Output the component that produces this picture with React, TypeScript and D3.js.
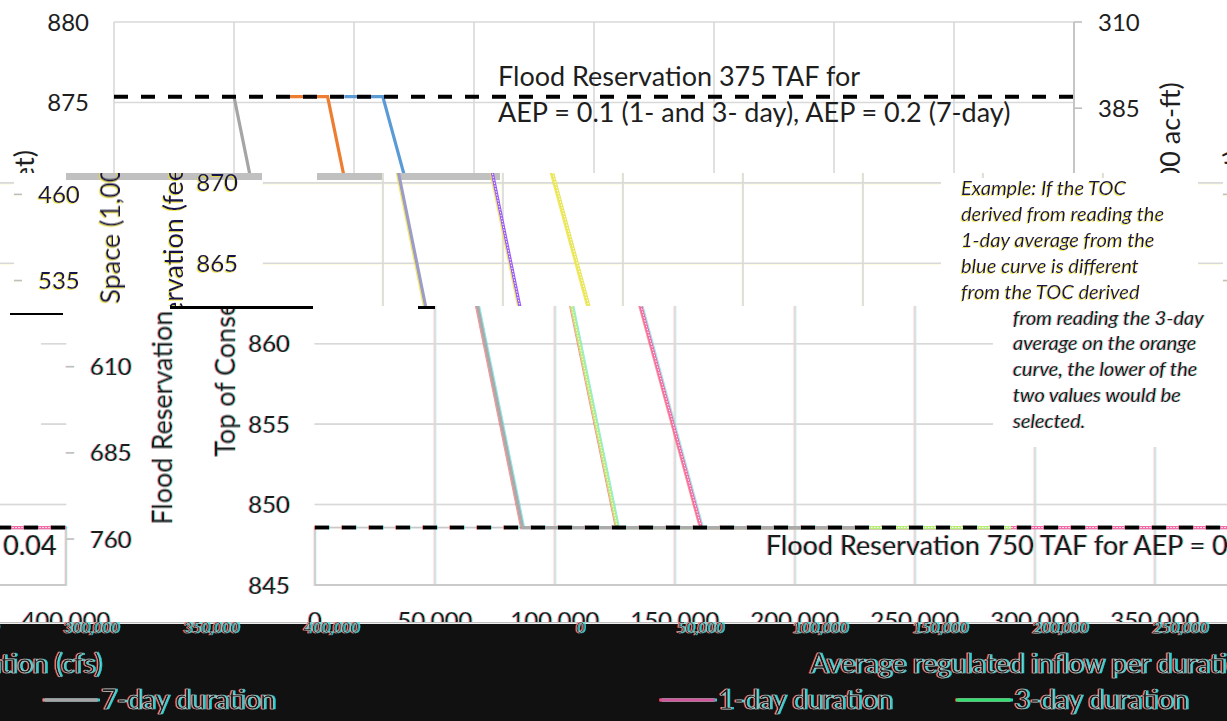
import React from "react";
import * as d3 from "d3";

const WIDTH = 1227;
const HEIGHT = 721;
const WRAP = 1209;

// ---------- data ----------
const xTicks = [0, 50000, 100000, 150000, 200000, 250000, 300000, 350000, 400000];
const yTicks = [845, 850, 855, 860, 865, 870, 875, 880];
const secTicks = [310, 385, 460, 535, 610, 685, 760];

const seriesNames = ["1-day duration", "3-day duration", "7-day duration"];
const oneDayFlow = [96000, 112000, 161000, 400000];
const oneDayElev = [875.36, 875.36, 848.57, 848.57];
const threeDayFlow = [73000, 89000, 126000, 290000];
const threeDayElev = [875.36, 875.36, 848.57, 848.57];
const sevenDayFlow = [50000, 86500, 230000];
const sevenDayElev = [875.36, 848.57, 848.57];

const reservationTAF = [375, 750];
const reservationLabels = [
  ["Flood Reservation 375 TAF for", "AEP = 0.1 (1- and 3- day), AEP = 0.2 (7-day)"],
  ["Flood Reservation 750 TAF for AEP = 0.04"],
];
const noteLines = [
  "Example: If the TOC",
  "derived from reading the",
  "1-day average from the",
  "blue curve is different",
  "from the TOC derived",
  "from reading the 3-day",
  "average on the orange",
  "curve, the lower of the",
  "two values would be",
  "selected.",
];
const xTitle = "Average regulated inflow per duration (cfs)";
const yTitle = "Top of Conservation (feet)";
const y2Title = "Flood Reservation Space (1,000 ac-ft)";

// ---------- scales ----------
const x = d3.scaleLinear().domain([0, 400000]).range([315, 1275]);
const y = d3.scaleLinear().domain([845, 880]).range([585, 22]);
const y2 = d3.scaleLinear().domain([310, 800]).range([22, 585]);
const fmt = d3.format(",");
const FONT = "Lato, 'Open Sans', sans-serif";

type Palette = { one: string; three: string; seven: string; text: string; hatch: boolean };
const palettes: Record<string, Palette> = {
  top: { one: "#5b9bd5", three: "#ed7d31", seven: "#a5a5a5", text: "#1e1e1e", hatch: false },
  middle: { one: "#e6e65a", three: "#9b5cf5", seven: "#9d9cc6", text: "#15154a", hatch: true },
  bottom: { one: "#f06aa8", three: "#b4ec74", seven: "#aaaaaa", text: "#1e1e1e", hatch: true },
};
const legendColors: Record<string, string> = { one: "#d4559b", three: "#33e070", seven: "#a5a5a5" };

const series = [
  { name: seriesNames[0], flow: oneDayFlow, elev: oneDayElev, key: "one" as const },
  { name: seriesNames[1], flow: threeDayFlow, elev: threeDayElev, key: "three" as const },
  { name: seriesNames[2], flow: sevenDayFlow, elev: sevenDayElev, key: "seven" as const },
];

const lineGen = d3.line<[number, number]>().x((d) => x(d[0])).y((d) => y(d[1]));

// layout constants
const resLabelX = [699, 766];
const resLabelDy = [[-10.5, 25.5], [27.5]];
const noteX = 1013;
const noteY0 = 195;
const noteStep = 25.9;
const PLOT_MID = (y(880) + y(845)) / 2;

type BandCfg = {
  off: number; y0: number; y1: number; pal: Palette;
  fStrong?: string; fWeak?: string; fullFrame: boolean; lowerBox: boolean;
};

function Body({ cfg }: { cfg: BandCfg }) {
  const { off, y0, y1, pal, fStrong, fWeak, fullFrame, lowerBox } = cfg;
  const x0 = x(0);
  const x1 = x(400000);
  const txt = pal.text;
  const vis = (xa: number, xb: number, ya: number, yb: number) =>
    ya < y1 && yb > y0 && xa + off < WIDTH && xb + off > 0;
  const tw = (s: string, size: number) => s.length * size * 0.52;
  const texts: React.ReactNode[] = [];
  const addText = (key: string, s: string, tx: number, ty: number, size: number, anchor: string, extra: any = {}) => {
    const w = tw(s, size);
    const xa = anchor === "end" ? tx - w : anchor === "middle" ? tx - w / 2 : tx;
    if (!vis(xa, xa + w, ty - size, ty + size * 0.3)) return;
    texts.push(
      <text key={key} x={tx} y={ty} fontSize={size} textAnchor={anchor} fill={txt} {...extra}>{s}</text>
    );
  };
  reservationTAF.forEach((r, i) =>
    reservationLabels[i].forEach((l, j) => addText("rl" + i + j, l, resLabelX[i], y2(r) + resLabelDy[i][j], 27, "start"))
  );
  noteLines.forEach((l, i) => addText("n" + i, l, noteX, noteY0 + i * noteStep, 20, "start", { fontStyle: "italic" }));
  yTicks.forEach((t) => addText("yl" + t, String(t), 290, y(t) + 8.5, 24, "end"));
  secTicks.forEach((t) => addText("sl" + t, String(t), 1299, y2(t) + 8.5, 24, "start"));
  xTicks.forEach((t) => addText("xl" + t, fmt(t), x(t), 629, 24, "middle"));
  const titleVis = (cx: number, len: number) => vis(cx - 12, cx + 12, PLOT_MID - len / 2, PLOT_MID + len / 2);
  if (titleVis(224, 300))
    texts.push(
      <text key="yt" transform={`translate(224,${PLOT_MID}) rotate(-90)`} fontSize={27}
        textAnchor="middle" dominantBaseline="central" fill={txt}>{yTitle}</text>
    );
  if (titleVis(1370, 443))
    texts.push(
      <text key="y2t" transform={`translate(1370,${PLOT_MID}) rotate(-90)`} fontSize={27}
        textAnchor="middle" dominantBaseline="central" fill={txt}>{y2Title}</text>
    );

  const vTicks = fullFrame ? xTicks : xTicks.slice(1, -1);
  return (
    <g fontFamily={FONT}>
      <g filter={fWeak ? `url(#${fWeak})` : undefined}>
        {yTicks.map((t) => (
          <line key={"h" + t} x1={x0} x2={x1} y1={y(t)} y2={y(t)}
            stroke={t === 845 ? "#c8c8c8" : "#d9d9d9"} strokeWidth={1.6} />
        ))}
        {vTicks.map((t) => (
          <line key={"v" + t} x1={x(t)} x2={x(t)} y1={y(880)} y2={y(845)} stroke="#d9d9d9" strokeWidth={1.6} />
        ))}
        {fullFrame && <line x1={x1} x2={x1} y1={y2(310)} y2={y(845)} stroke="#bfbfbf" strokeWidth={1.6} />}
        {secTicks.map((t) => (
          <line key={"s" + t} x1={x1} x2={x1 + 8} y1={y2(t)} y2={y2(t)} stroke="#bfbfbf" strokeWidth={1.6} />
        ))}
        {lowerBox && (
          <rect x={x0} y={y2(750)} width={x1 - x0} height={y(845) - y2(750)} fill="none" stroke="#c8c8c8" strokeWidth={1.6} />
        )}
      </g>
      <rect x={993} y={178} width={257} height={269} fill="#fff" />
      <g filter={fStrong ? `url(#${fStrong})` : undefined}>
        {series.map((s) => {
          const pts = s.flow.map((f, i) => [f, s.elev[i]] as [number, number]);
          const d = lineGen(pts) || "";
          return (
            <g key={s.key}>
              <path d={d} fill="none" stroke={pal[s.key]} strokeWidth={3.2} />
              {pal.hatch && s.key !== "seven" && (
                <path d={d} fill="none" stroke="#fff" strokeWidth={1} strokeDasharray="1.5 1.5" />
              )}
            </g>
          );
        })}
        {reservationTAF.map((r) => (
          <line key={"r" + r} x1={x0} x2={x1} y1={y2(r)} y2={y2(r)} stroke="#000"
            strokeWidth={4} strokeDasharray="14 13" />
        ))}
        {texts}
      </g>
    </g>
  );
}

function Band({ id, y0, y1, shift, pal, fStrong, fWeak, fullFrame, lowerBox, under }: any) {
  const offs = [shift - WRAP, shift, shift + WRAP];
  return (
    <g clipPath={`url(#${id})`}>
      <rect x={0} y={y0} width={WIDTH} height={y1 - y0} fill="#fff" />
      {under}
      {offs.map((off) => (
        <g key={"o" + off} transform={`translate(${off},0)`}>
          <Body cfg={{ off, y0, y1, pal, fStrong, fWeak, fullFrame, lowerBox }} />
        </g>
      ))}
    </g>
  );
}

const legendStart = 395;
const legendStep = 296;

function DarkBody({ off }: { off: number }) {
  const cx = (x(0) + x(400000)) / 2;
  const inView = (xa: number, xb: number) => xa + off < WIDTH && xb + off > 0;
  return (
    <g fontFamily={FONT} filter="url(#fDark)">
      {xTicks.filter((t) => inView(x(t) - 30, x(t) + 30)).map((t) => (
        <text key={"dt" + t} x={x(t)} y={633} fontSize={15} fontStyle="italic" textAnchor="middle"
          fill="#1a1a1a" stroke="#cfcfcf" strokeWidth={0.4}>{fmt(t)}</text>
      ))}
      {inView(cx - 250, cx + 250) && (
        <text x={cx} y={673} fontSize={27} textAnchor="middle" fill="#1a1a1a" stroke="#cfcfcf" strokeWidth={0.5}>
          {xTitle}
        </text>
      )}
      {series.map((s, i) => {
        const lx = legendStart + i * legendStep;
        if (!inView(lx, lx + 240)) return null;
        return (
          <g key={s.key}>
            <line x1={lx} x2={lx + 55} y1={700} y2={700} stroke={legendColors[s.key]} strokeWidth={3} />
            <text x={lx + 58} y={709} fontSize={27} fill="#1a1a1a" stroke="#cfcfcf" strokeWidth={0.5}>{s.name}</text>
          </g>
        );
      })}
    </g>
  );
}

const grayStrips = [
  [66, 262],
  [317, 382],
  [400, 500],
];
const blackBits = [
  [170, 306, 143, 3],
  [418, 306, 17, 3],
  [10, 313, 53, 2],
];

function FringeFilter({ id, a, b, op }: { id: string; a: [number, number, string]; b?: [number, number, string]; op: number }) {
  return (
    <filter id={id} filterUnits="userSpaceOnUse" x={-3000} y={0} width={6000} height={HEIGHT}>
      <feOffset in="SourceAlpha" dx={a[0]} dy={a[1]} result="oa" />
      <feFlood floodColor={a[2]} floodOpacity={op} result="ca" />
      <feComposite in="ca" in2="oa" operator="in" result="ra" />
      {b && <feOffset in="SourceAlpha" dx={b[0]} dy={b[1]} result="ob" />}
      {b && <feFlood floodColor={b[2]} floodOpacity={op} result="cb" />}
      {b && <feComposite in="cb" in2="ob" operator="in" result="rb" />}
      <feMerge>
        <feMergeNode in="ra" />
        {b && <feMergeNode in="rb" />}
        <feMergeNode in="SourceGraphic" />
      </feMerge>
    </filter>
  );
}

export default function App() {
  const darkShift = 265;
  const strips = grayStrips.map(([a, b], i) => (
    <rect key={"g" + i} x={a} y={173} width={b - a} height={7} fill="#c0c0c0" />
  ));
  return (
    <svg width={WIDTH} height={HEIGHT} viewBox={`0 0 ${WIDTH} ${HEIGHT}`}
      style={{ position: "absolute", left: 0, top: 0, display: "block", background: "#fff" }}>
      <defs>
        <clipPath id="cTop"><rect x={0} y={0} width={WIDTH} height={173} /></clipPath>
        <clipPath id="cMid"><rect x={0} y={173} width={WIDTH} height={133} /></clipPath>
        <clipPath id="cBot"><rect x={0} y={306} width={WIDTH} height={316} /></clipPath>
        <clipPath id="cDark"><rect x={0} y={622} width={WIDTH} height={99} /></clipPath>
        <FringeFilter id="fMidS" a={[-1.2, 1, "#f0e020"]} op={0.75} />
        <FringeFilter id="fMidW" a={[-1.2, 1, "#f0e020"]} op={0.14} />
        <FringeFilter id="fBotS" a={[-1.2, 0, "#ff4040"]} b={[1.2, 0, "#30e0e0"]} op={0.6} />
        <FringeFilter id="fBotW" a={[-1.2, 0, "#ff4040"]} b={[1.2, 0, "#30e0e0"]} op={0.16} />
        <FringeFilter id="fDark" a={[-1.5, 0, "#ff3a3a"]} b={[1.5, 0, "#2ee6e6"]} op={0.9} />
      </defs>
      <Band id="cTop" y0={0} y1={173} shift={-201} pal={palettes.top} fullFrame={true} lowerBox={false} />
      <Band id="cMid" y0={173} y1={306} shift={-52} pal={palettes.middle} fStrong="fMidS" fWeak="fMidW"
        fullFrame={false} lowerBox={false} under={strips} />
      <Band id="cBot" y0={306} y1={622} shift={0} pal={palettes.bottom} fStrong="fBotS" fWeak="fBotW"
        fullFrame={false} lowerBox={true} />
      {blackBits.map(([bx, by, bw, bh], i) => (
        <rect key={"b" + i} x={bx} y={by} width={bw} height={bh} fill="#000" />
      ))}
      <g clipPath="url(#cDark)">
        <rect x={0} y={624} width={WIDTH} height={97} fill="#111" />
        <line x1={0} x2={WIDTH} y1={622.5} y2={622.5} stroke="#bdbdbd" strokeWidth={1.5} />
        {[darkShift - WRAP, darkShift].map((off) => (
          <g key={"d" + off} transform={`translate(${off},0)`}>
            <DarkBody off={off} />
          </g>
        ))}
      </g>
    </svg>
  );
}
